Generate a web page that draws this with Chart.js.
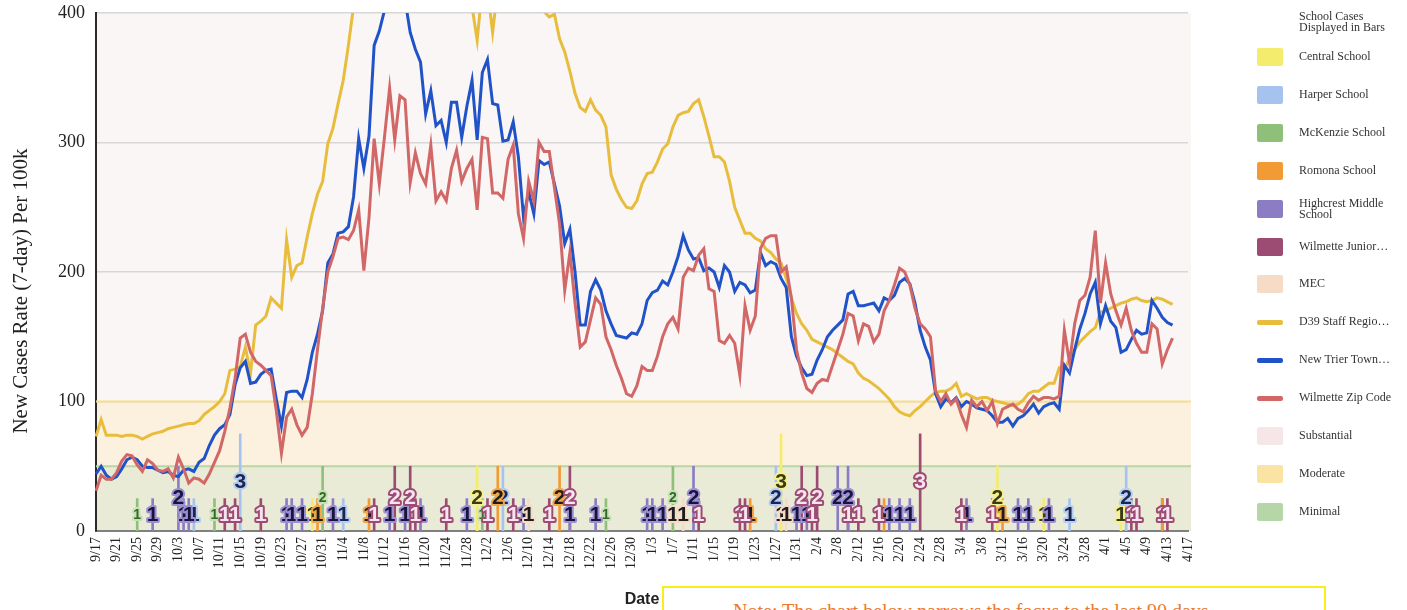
<!DOCTYPE html>
<html>
<head>
<meta charset="utf-8">
<script src="https://cdn.jsdelivr.net/npm/chart.js@4.4.1/dist/chart.umd.min.js"></script>
<style>
  body { margin: 0; background: #fff; }
  #wrap { position: relative; width: 1407px; height: 610px; overflow: hidden; }
  #chart { position: absolute; left: 0; top: 0; }
  .lg-title, .lg-text { position: absolute; left: 1299px; font: 12px "Liberation Serif", "Times New Roman", serif; color: #333; line-height: 11px; white-space: nowrap; }
  .lg-swatch { position: absolute; left: 1257px; width: 26px; }
  #note { position: absolute; left: 662px; top: 586px; width: 664px; height: 60px; border: 2px solid #f7ef1a; background: #fff;
          box-sizing: border-box; padding: 12px 0 0 69px; font: 20px "Liberation Serif", "Times New Roman", serif; color: #ec7a2c; white-space: nowrap; }
</style>
</head>
<body>
<div id="wrap">
  <canvas id="chart" width="1407" height="610"></canvas>
  <div id="legend"></div>
  <div id="note">Note: The chart below narrows the focus to the last 90 days</div>
</div>
<script>
// daily dates 9/17 .. 4/17
const dates = [];
for (let d = new Date(Date.UTC(2020, 8, 17)); dates.length < 213; d.setUTCDate(d.getUTCDate() + 1)) {
  dates.push(`${d.getUTCMonth() + 1}/${d.getUTCDate()}`);
}

// 7-day case rate per 100k, from 9/17 onward
const d39Staff = [
  73,86,74,74,74,73,74,74,73,71, 73,75,76,77,79,80,81,82,83,83,
  85,90,93,96,100,106,124,125,127,142, 122,159,162,166,180,176,172,225,196,205,
  207,227,245,260,270,299,311,330,348,375, 405,420,440,455,470,480,490,500,505,510,
  500,490,480,470,460,450,445,440,430,425, 420,415,410,405,379,420,418,385,420,430,
  440,445,450,440,430,420,410,401,397,399, 380,370,355,338,327,324,333,325,321,312,
  275,264,256,250,249,255,268,276,277,285, 295,299,312,321,323,324,330,333,320,305,
  289,289,285,270,250,240,230,230,226,224, 218,215,210,207,195,180,168,160,155,148,
  146,144,142,140,137,134,131,129,122,118, 116,113,110,106,102,96,92,90,89,93,
  96,100,104,107,108,108,110,114,104,106, 104,102,103,103,101,100,99,98,97,98,
  101,106,108,108,111,114,114,126,125,133, 140,146,150,154,157,169,170,172,174,176,
  177,179,180,178,177,178,180,179,177,175
];
const newTrier = [
  44,50,43,40,42,48,55,57,55,50, 49,49,47,45,46,43,42,47,48,46,
  53,56,66,74,79,82,90,113,126,131, 114,115,121,124,125,102,81,107,108,108,
  103,117,138,152,170,207,214,230,231,235, 258,303,280,305,375,386,402,430,440,430,
  410,385,372,362,322,340,313,317,300,331, 331,304,328,348,302,354,364,330,329,301,
  302,316,289,242,262,245,286,283,285,268, 251,222,233,200,159,159,185,194,186,170,
  160,151,150,149,153,152,160,178,184,186, 193,190,200,212,228,217,210,211,201,203,
  200,188,205,200,185,192,190,184,186,215, 205,208,206,195,188,150,135,126,120,121,
  132,140,150,155,159,163,183,185,174,174, 175,176,170,180,178,182,192,195,191,176,
  155,142,132,106,96,102,99,103,96,100, 98,95,94,93,89,84,84,87,81,87,
  89,93,98,91,96,98,99,94,128,122, 140,156,168,183,192,160,174,162,157,138,
  140,148,155,152,153,178,172,165,161,159
];
const wilmetteZip = [
  31,43,40,40,45,54,59,58,51,46, 55,52,47,46,48,41,57,48,37,41,
  40,37,44,53,62,77,95,118,149,152, 138,131,128,124,120,93,60,88,94,82,
  74,80,106,140,172,200,212,226,227,225, 232,248,201,242,303,268,304,342,302,336,
  333,269,292,276,268,298,255,262,255,280, 294,270,280,287,248,304,303,261,261,257,
  287,298,245,226,270,255,300,293,293,265, 237,186,215,176,142,146,163,180,175,150,
  140,128,118,106,104,112,127,124,124,135, 150,160,165,156,196,203,201,213,218,187,
  185,147,145,151,145,120,174,155,166,218, 226,228,228,200,204,180,140,122,110,107,
  114,117,116,128,140,152,168,166,147,160, 158,146,152,170,178,190,203,200,190,172,
  160,156,150,108,100,106,98,102,90,80, 101,96,100,93,100,83,94,96,98,94,
  92,99,104,101,103,103,102,104,155,130, 160,178,182,196,232,176,207,183,170,159,
  172,155,145,138,138,160,156,129,140,149
];

// school cases shown as bars: [date, cases]
const centralCases   = [['10/29',1],['11/30',2],['1/28',3],['3/11',2],['3/20',1],['4/4',1]];
const harperCases    = [['10/6',1],['10/15',3],['11/4',1],['12/5',2],['1/27',2],['3/25',1],['4/5',2]];
const mckenzieCases  = [['9/25',1],['10/10',1],['10/31',2],['12/1',1],['12/25',1],['1/7',2]];
const romonaCases    = [['10/30',1],['11/9',1],['12/4',2],['12/16',2],['1/22',1],['2/17',1],['3/12',1],['4/12',1]];
const highcrestCases = [['9/28',1],['10/3',2],['10/4',1],['10/5',1],['10/24',1],['10/25',1],['10/27',1],['11/2',1],
  ['11/13',1],['11/16',1],['11/19',1],['11/28',1],['12/9',1],['12/18',1],['12/23',1],['1/2',1],['1/3',1],['1/5',1],
  ['1/11',2],['1/31',1],['2/2',1],['2/8',2],['2/10',2],['2/18',1],['2/20',1],['2/22',1],['3/5',1],['3/15',1],['3/17',1],['3/21',1]];
const wjhCases       = [['10/12',1],['10/14',1],['10/19',1],['11/10',1],['11/14',2],['11/17',2],['11/18',1],['11/24',1],
  ['12/2',1],['12/7',1],['12/14',1],['12/18',2],['1/12',1],['1/20',1],['1/21',1],['2/1',2],['2/3',1],['2/4',2],['2/10',1],
  ['2/12',1],['2/16',1],['2/24',3],['3/4',1],['3/10',1],['4/6',1],['4/7',1],['4/12',1],['4/13',1]];
const mecCases       = [['12/10',1],['1/7',1],['1/9',1],['1/28',1],['1/29',1]];

// risk bands (upper limits)
const bandTops = [50, 100, 400];

const C = {
  central: '#f3ec6c', harper: '#a6c3ef', mckenzie: '#8fc07a', romona: '#f29a34',
  highcrest: '#8b7cc4', wjh: '#9c4c73', mec: '#f6dcc6',
  d39: '#e8bd3e', nt: '#2153c8', wz: '#d16766',
  substantial: '#f6e6e8', moderate: '#fbe3a3', minimal: '#b7d6a8'
};
const bandFills = ['#e9ebd6', '#fcf1df', '#faf6f5'];
const bandEdges = ['#b9d6a6', '#f7e08c', null];

const toPts = arr => arr.map(([x, n]) => ({ x, y: n }));
const schoolSet = (label, data, color, halo, text, size) => ({
  type: 'bar', label, data: toPts(data), yAxisID: 'yCases', order: 5,
  backgroundColor: color, barThickness: 2, grouped: false,
  haloColor: halo, textColor: text, labelSize: size
});
const lineSet = (label, data, color, order) => ({
  type: 'line', label, data, borderColor: color, backgroundColor: color,
  borderWidth: 3, pointRadius: 0, tension: 0, order
});

const bandPlugin = {
  id: 'bands',
  beforeDraw(chart) {
    const { ctx, chartArea: a, scales: { y } } = chart;
    let prev = 0;
    bandTops.forEach((top, k) => {
      const y1 = y.getPixelForValue(top), y0 = y.getPixelForValue(prev);
      ctx.fillStyle = bandFills[k];
      ctx.fillRect(a.left, y1, a.right + 3 - a.left, y0 - y1);
      prev = top;
    });
  },
  beforeDatasetsDraw(chart) {
    const { ctx, chartArea: a, scales: { y } } = chart;
    bandTops.forEach((top, k) => {
      if (!bandEdges[k]) return;
      const py = y.getPixelForValue(top);
      ctx.save();
      ctx.strokeStyle = bandEdges[k];
      ctx.lineWidth = 2;
      ctx.beginPath(); ctx.moveTo(a.left, py); ctx.lineTo(a.right + 3, py); ctx.stroke();
      ctx.restore();
    });
  }
};

const countLabels = {
  id: 'countLabels',
  afterDatasetsDraw(chart) {
    const ctx = chart.ctx;
    ctx.save();
    ctx.textAlign = 'center';
    ctx.textBaseline = 'middle';
    ctx.lineJoin = 'round';
    chart.data.datasets.forEach((ds, di) => {
      if (ds.type !== 'bar') return;
      chart.getDatasetMeta(di).data.forEach((bar, j) => {
        const n = ds.data[j].y;
        const ym = (bar.y + bar.base) / 2;
        ctx.font = `bold ${ds.labelSize}px "Liberation Sans", Arial, sans-serif`;
        ctx.lineWidth = 4;
        ctx.strokeStyle = ds.haloColor;
        ctx.strokeText(String(n), bar.x, ym);
        ctx.fillStyle = ds.textColor;
        ctx.fillText(String(n), bar.x, ym);
      });
    });
    ctx.restore();
  }
};

const yTitle = {
  id: 'yTitle',
  afterDraw(chart) {
    const ctx = chart.ctx;
    ctx.save();
    ctx.translate(21, 291);
    ctx.rotate(-Math.PI / 2);
    ctx.font = '21px "Liberation Serif", "Times New Roman", serif';
    ctx.fillStyle = '#222';
    ctx.textAlign = 'center';
    ctx.textBaseline = 'middle';
    ctx.fillText('New Cases Rate (7-day) Per 100k', 0, 0);
    ctx.restore();
  }
};

const serif = '"Liberation Serif", "Times New Roman", serif';

new Chart(document.getElementById('chart'), {
  data: {
    labels: dates,
    datasets: [
      lineSet('Wilmette Zip Code', wilmetteZip, C.wz, 1),
      lineSet('New Trier Township', newTrier, C.nt, 2),
      lineSet('D39 Staff Region', d39Staff, C.d39, 3),
      schoolSet('Central School', centralCases, C.central, '#f6f08c', '#3b3a18', 21),
      schoolSet('Harper School', harperCases, C.harper, '#b5cdf2', '#1b2550', 21),
      schoolSet('McKenzie School', mckenzieCases, C.mckenzie, '#c9dfb8', '#2f6b22', 14),
      schoolSet('Romona School', romonaCases, C.romona, '#f4a544', '#1d1d1d', 21),
      schoolSet('Highcrest Middle School', highcrestCases, C.highcrest, '#9d90d2', '#17143e', 21),
      schoolSet('Wilmette Junior High', wjhCases, C.wjh, '#9c4c73', '#f8e4ef', 21),
      schoolSet('MEC', mecCases, C.mec, '#f6dcc6', '#1d1d1d', 21)
    ]
  },
  options: {
    responsive: false,
    animation: false,
    layout: { padding: { top: 13, right: 219, left: 0, bottom: 0 } },
    plugins: { legend: { display: false }, tooltip: { enabled: false } },
    scales: {
      x: {
        type: 'category', offset: false,
        grid: { display: false, drawTicks: false },
        border: { color: '#808080', width: 2 },
        ticks: {
          autoSkip: false, minRotation: 90, maxRotation: 90, padding: 6,
          font: { family: serif, size: 14 }, color: '#222',
          callback: (v, i) => (i % 4 === 0 ? dates[i] : null)
        },
        title: { display: true, text: 'Date', color: '#222',
          font: { family: '"Liberation Sans", Arial, sans-serif', size: 16, weight: 'bold' },
          padding: { top: 0, bottom: 1 } },
        afterFit: s => { s.height = 79; s.paddingLeft = 0; s.paddingRight = 0; }
      },
      y: {
        min: 0, max: 400,
        ticks: { stepSize: 100, padding: 11, font: { family: serif, size: 18 }, color: '#222' },
        grid: { color: '#d7d7d7', lineWidth: 1.5, drawTicks: false },
        border: { color: '#2a2a2a', width: 2 },
        afterFit: s => { s.width = 96; s.paddingTop = 0; s.paddingBottom = 0; }
      },
      yCases: { min: 0, max: 16, display: false }
    }
  },
  plugins: [bandPlugin, countLabels, yTitle]
});

// legend on the right
const legendEntries = [
  ['Central School', C.central, 'box'], ['Harper School', C.harper, 'box'],
  ['McKenzie School', C.mckenzie, 'box'], ['Romona School', C.romona, 'box'],
  ['Highcrest Middle<br>School', C.highcrest, 'box'], ['Wilmette Junior…', C.wjh, 'box'],
  ['MEC', C.mec, 'box'], ['D39 Staff Regio…', C.d39, 'line'],
  ['New Trier Town…', C.nt, 'line'], ['Wilmette Zip Code', C.wz, 'line'],
  ['Substantial', C.substantial, 'box'], ['Moderate', C.moderate, 'box'], ['Minimal', C.minimal, 'box']
];
let html = '<div class="lg-title" style="top:11px">School Cases<br>Displayed in Bars</div>';
legendEntries.forEach(([text, color, kind], k) => {
  const cy = 57 + k * 37.9;
  const h = kind === 'box' ? 18 : 5;
  html += `<div class="lg-swatch" style="top:${cy - h / 2}px;height:${h}px;background:${color};border-radius:2px"></div>`;
  const twoLine = text.includes('<br>');
  html += `<div class="lg-text" style="top:${cy - (twoLine ? 11 : 6)}px">${text}</div>`;
});
document.getElementById('legend').innerHTML = html;
</script>
</body>
</html>
